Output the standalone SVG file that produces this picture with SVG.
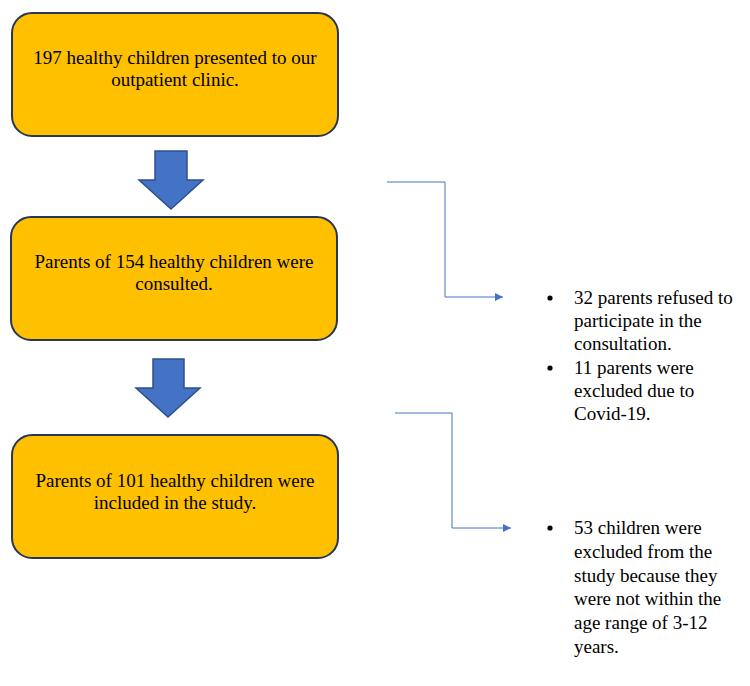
<svg xmlns="http://www.w3.org/2000/svg" width="750" height="686" viewBox="0 0 750 686">
<style>
.box{fill:#FFC000;stroke:#263656;stroke-width:2}
.blk{fill:#4472C4;stroke:#2F4F8A;stroke-width:1.5}
.t{font-family:"Liberation Serif","Times New Roman",serif;font-size:19px;fill:#000}
.c{text-anchor:middle}
.ln{fill:none;stroke:#4472C4;stroke-width:1}
</style>
<defs>
<marker id="ah" viewBox="0 0 10 10" refX="10" refY="5" markerWidth="8" markerHeight="8" markerUnits="userSpaceOnUse" orient="auto">
<path d="M0,0 L10,5 L0,10 z" fill="#4472C4"/>
</marker>
</defs>
<rect width="750" height="686" fill="#fff"/>
<g id="node1">
<rect class="box" x="12" y="13" width="326" height="123" rx="20"/>
<text class="t c" x="175" y="64">197 healthy children presented to our</text>
<text class="t c" x="175" y="86">outpatient clinic.</text>
</g>
<g id="arrow1">
<path class="blk" d="M155,151 H187 V180 H203 L171,209 L139,180 H155 Z"/>
</g>
<g id="node2">
<rect class="box" x="11" y="217" width="326" height="123" rx="20"/>
<text class="t c" x="174" y="268">Parents of 154 healthy children were</text>
<text class="t c" x="174" y="290">consulted.</text>
</g>
<g id="arrow2">
<path class="blk" d="M153,359 H184 V388 H200 L168,417 L136,388 H153 Z"/>
</g>
<g id="node3">
<rect class="box" x="12" y="435" width="326" height="123" rx="20"/>
<text class="t c" x="175" y="487">Parents of 101 healthy children were</text>
<text class="t c" x="175" y="509">included in the study.</text>
</g>
<g id="connectors">
<path class="ln" d="M387,182 H445 V297 H503" marker-end="url(#ah)"/>
<path class="ln" d="M395,413 H452 V528 H511" marker-end="url(#ah)"/>
</g>
<g id="note1">
<circle cx="550" cy="298" r="2.6" fill="#000"/>
<text class="t" x="574" y="304">32 parents refused to</text>
<text class="t" x="574" y="327">participate in the</text>
<text class="t" x="574" y="350">consultation.</text>
<circle cx="550" cy="368" r="2.6" fill="#000"/>
<text class="t" x="574" y="374">11 parents were</text>
<text class="t" x="574" y="397">excluded due to</text>
<text class="t" x="574" y="420">Covid-19.</text>
</g>
<g id="note2">
<circle cx="550" cy="528" r="2.6" fill="#000"/>
<text class="t" x="574" y="534">53 children were</text>
<text class="t" x="574" y="558">excluded from the</text>
<text class="t" x="574" y="582">study because they</text>
<text class="t" x="574" y="605">were not within the</text>
<text class="t" x="574" y="629">age range of 3-12</text>
<text class="t" x="574" y="653">years.</text>
</g>
</svg>
